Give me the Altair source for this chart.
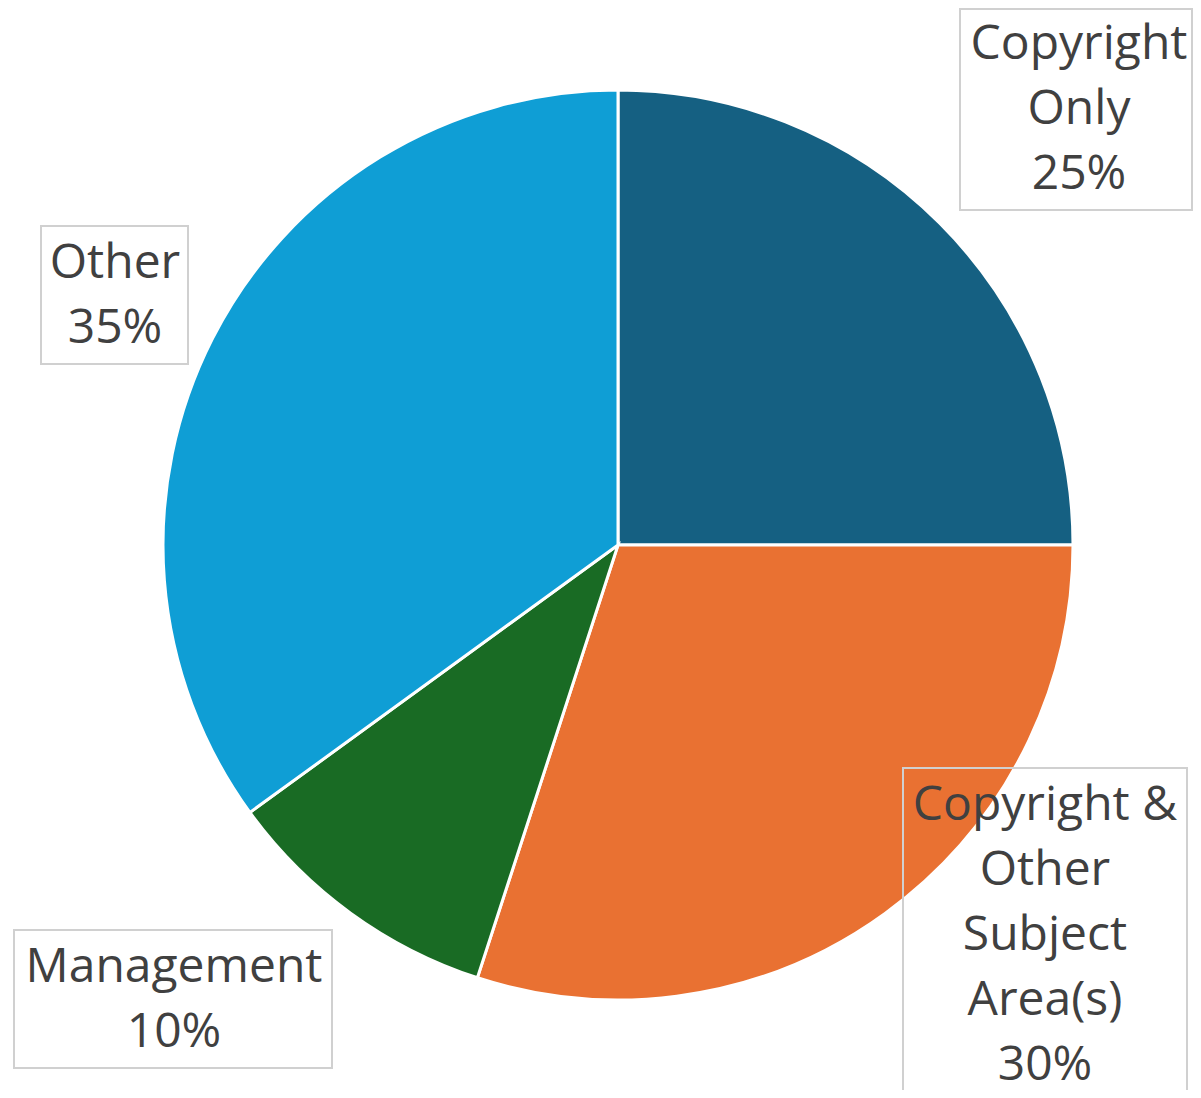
import altair as alt
import pandas as pd

# Data
categories = ["Copyright Only", "Copyright & Other Subject Area(s)", "Management", "Other"]
label_lines = [["Copyright", "Only"], ["Copyright &", "Other", "Subject", "Area(s)"], ["Management"], ["Other"]]
values = [25, 30, 10, 35]
colors = ["#156082", "#E97132", "#196B24", "#0F9ED5"]

# Layout (pixels within the chart area)
W, H = 1185, 1082
CX, CY, R = 610, 537, 455
box_x1 = [952, 895, 6, 33]
box_x2 = [1184, 1179, 324, 180]
box_y1 = [1, 760, 922, 218]
box_y2 = [202, 1100, 1060, 356]
text_cx = [1071, 1037, 166, 107]
text_cy = [37, 798, 960, 256]

pie_df = pd.DataFrame({"category": categories, "value": values, "order": list(range(len(categories)))})

lab_df = pd.DataFrame({
    "category": categories,
    "text": [lines + [f"{v}%"] for lines, v in zip(label_lines, values)],
    "x1": box_x1, "x2": box_x2, "y1": box_y1, "y2": box_y2,
    "cx": text_cx, "cy": text_cy,
})

pie = alt.Chart(pie_df).mark_arc(radius=R, stroke="white", strokeWidth=3).encode(
    theta=alt.Theta("value:Q", stack=True),
    order=alt.Order("order:Q"),
    color=alt.Color("category:N", scale=alt.Scale(domain=categories, range=colors), legend=None),
    x=alt.value(CX),
    y=alt.value(CY),
)

boxes = alt.Chart(lab_df).mark_rect(fill=None, stroke="#D0D0D0", strokeWidth=2).encode(
    x=alt.X("x1:Q", scale=None, axis=None),
    x2="x2:Q",
    y=alt.Y("y1:Q", scale=None, axis=None),
    y2="y2:Q",
)

texts = alt.Chart(lab_df).mark_text(
    font="Open Sans", fontSize=48, color="#404040", lineHeight=65,
    align="center", baseline="middle",
).encode(
    x=alt.X("cx:Q", scale=None, axis=None),
    y=alt.Y("cy:Q", scale=None, axis=None),
    text="text",
)

chart = alt.layer(pie, boxes, texts).properties(
    width=W, height=H, padding=0, autosize=alt.AutoSizeParams(type="none"),
).configure_view(stroke=None)

chart.save("out.html", embed_options={"renderer": "svg", "actions": False})
